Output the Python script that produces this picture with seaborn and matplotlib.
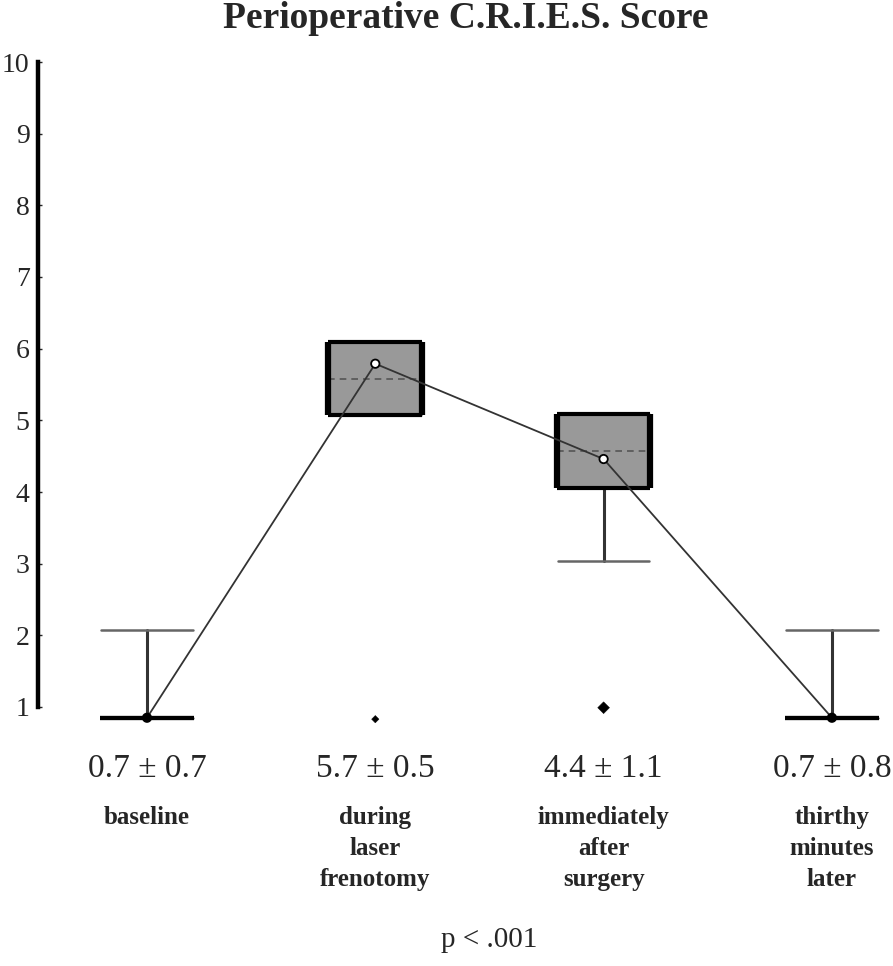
import matplotlib
matplotlib.use("Agg")
import matplotlib.pyplot as plt
import matplotlib.transforms as mtransforms
import seaborn as sns
import pandas as pd

# ---------------- data ----------------
categories = ["baseline", "during\nlaser\nfrenotomy", "immediately\nafter\nsurgery", "thirthy\nminutes\nlater"]
stat_labels = ["0.7 \u00b1 0.7", "5.7 \u00b1 0.5", "4.4 \u00b1 1.1", "0.7 \u00b1 0.8"]
q1 = [0.85, 5.07, 4.06, 0.85]
median = [0.85, 5.58, 4.57, 0.85]
q3 = [0.85, 6.09, 5.09, 0.85]
whisker_low = [0.85, 5.07, 3.04, 0.85]
whisker_high = [2.07, 6.09, 5.09, 2.07]
means = [0.85, 5.79, 4.46, 0.85]
outlier_pos = [1, 2]
outlier_val = [0.83, 0.99]
y_ticks = list(range(1, 11))
title = "Perioperative C.R.I.E.S. Score"
p_text = "p < .001"

# ---------------- style ----------------
sns.set_style("white")
plt.rcParams['font.family'] = ['Liberation Serif', 'DejaVu Serif']

W, H = 893, 966
fig = plt.figure(figsize=(W / 100, H / 100), dpi=100)

ylo, yhi = 0.6, 10.0
px_unit = (707 - 62) / 9.0
ax_top = 62
ax_bot = 707 + (1 - ylo) * px_unit
ax_left, ax_right = 38, 893
ax = fig.add_axes([ax_left / W, (H - ax_bot) / H, (ax_right - ax_left) / W, (ax_bot - ax_top) / H])

spacing = 228.3
x0 = 147
ax.set_xlim(-(x0 - ax_left) / spacing, (ax_right - x0) / spacing)
ax.set_ylim(ylo, yhi)

positions = list(range(len(categories)))
box_w = 0.41
cap_w = 0.40

stats = []
for i in positions:
    stats.append(dict(med=median[i], q1=q1[i], q3=q3[i],
                      whislo=whisker_low[i], whishi=whisker_high[i], fliers=[]))

ax.bxp(stats, positions=positions, widths=box_w, capwidths=cap_w,
       patch_artist=True, showfliers=False, manage_ticks=False,
       boxprops=dict(facecolor='#999999', edgecolor='none', linewidth=0, zorder=2),
       medianprops=dict(color='#555555', linestyle=(0, (4, 3)), linewidth=1.2, zorder=3),
       whiskerprops=dict(color='#333333', linewidth=2.2, zorder=2),
       capprops=dict(color='#666666', linewidth=1.8, zorder=2))

# box edges: thick sides, medium top/bottom
for i in positions:
    l, r = i - box_w / 2, i + box_w / 2
    ax.hlines([q1[i], q3[i]], l, r, colors='black', linewidth=3.0, zorder=5)
    if q3[i] > q1[i]:
        ax.vlines([l, r], q1[i], q3[i], colors='black', linewidth=4.5, zorder=5)

# mean connecting line
df = pd.DataFrame({"pos": positions, "mean": means})
sns.lineplot(data=df, x="pos", y="mean", color='#333333', linewidth=1.3, ax=ax, zorder=6)
face = ['white' if q3[i] > q1[i] else 'black' for i in positions]
sns.scatterplot(data=df, x="pos", y="mean", ax=ax, s=36, marker='o',
                c=face, edgecolor='black', linewidth=1.3, zorder=7)

# outliers
sns.scatterplot(x=outlier_pos, y=outlier_val, ax=ax, marker='D', s=[14, 36],
                color='black', edgecolor='black', zorder=7)

# axes styling
for s in ['top', 'right', 'bottom']:
    ax.spines[s].set_visible(False)
ax.spines['left'].set_linewidth(3.2)
ax.spines['left'].set_color('black')
ax.spines['left'].set_bounds(1, 10)
ax.set_yticks(y_ticks)
ax.set_yticklabels([str(t) for t in y_ticks], fontsize=20)
ax.tick_params(axis='y', direction='in', length=3, width=1, pad=6, left=True)
ax.set_xticks([])
ax.set_xlabel("")
ax.set_ylabel("")

# texts
tr = mtransforms.blended_transform_factory(ax.transData, fig.transFigure)
for i in positions:
    ax.text(i, (H - 769) / H, stat_labels[i], transform=tr, ha='center', va='center', fontsize=24)
    ax.text(i, (H - 806) / H, categories[i], transform=tr, ha='center', va='top',
            fontsize=18, fontweight='bold', linespacing=1.45)
ax.text(1.5, (H - 940) / H, p_text, transform=tr, ha='center', va='center', fontsize=21)

trt = mtransforms.blended_transform_factory(ax.transAxes, fig.transFigure)
ax.text(0.5, (H - 19) / H, title, transform=trt, ha='center', va='center',
        fontsize=27, fontweight='bold')

fig.savefig("out.png", dpi=100)
